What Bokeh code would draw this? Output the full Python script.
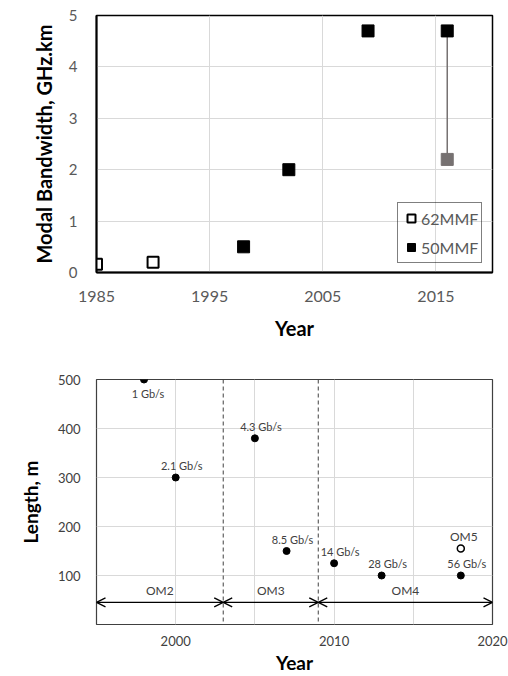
from bokeh.plotting import figure
from bokeh.models import (ColumnDataSource, Legend, LegendItem, FixedTicker, Arrow,
                          OpenHead, Span, Label, Range1d)
from bokeh.layouts import column
from bokeh.embed import file_html
from bokeh.resources import INLINE
from bokeh.core.properties import value

# ---------------- data: panel a) ----------------
years_62 = [1985, 1990]
bw_62 = [0.16, 0.2]
years_50 = [1998, 2002, 2009, 2016]
bw_50 = [0.5, 2.0, 4.7, 4.7]
years_50_low = [2016]
bw_50_low = [2.2]
xticks_a = [1985, 1995, 2005, 2015]
yticks_a = [0, 1, 2, 3, 4, 5]
legend_labels_a = ["62MMF", "50MMF"]

# ---------------- data: panel b) ----------------
rate_years = [1998, 2000, 2005, 2007, 2010, 2013, 2018]
rate_len = [500, 300, 380, 150, 125, 100, 100]
rate_labels = ["1 Gb/s", "2.1 Gb/s", "4.3 Gb/s", "8.5 Gb/s", "14 Gb/s", "28 Gb/s", "56 Gb/s"]
om5_year = [2018]
om5_len = [155]
om5_label = ["OM5"]
om_names = ["OM2", "OM3", "OM4"]
om_bounds = [1995, 2003, 2009, 2020]
om_arrow_len = 45
xticks_b = [2000, 2010, 2020]
xgrid_b = [1995, 2000, 2005, 2010, 2015, 2020]
yticks_b = [100, 200, 300, 400, 500]

FONT = "Lato"
MARGIN = 0
W = 508
HA, HB = 355, 321
A_BORDER = dict(left=96, right=16, top=15, bottom=83)
B_BORDER = dict(left=84, right=8, top=24, bottom=52)


def frame_geom(off_y, h, b, xr, yr):
    return dict(left=MARGIN + b["left"], right=MARGIN + W - b["right"],
                top=off_y + b["top"], bottom=off_y + h - b["bottom"],
                x0=xr[0], x1=xr[1], y0=yr[0], y1=yr[1])


def to_data(g, px, py):
    x = g["x0"] + (px - g["left"]) / (g["right"] - g["left"]) * (g["x1"] - g["x0"])
    y = g["y0"] + (g["bottom"] - py) / (g["bottom"] - g["top"]) * (g["y1"] - g["y0"])
    return x, y


# ================= panel a =================
xr_a, yr_a = (1985, 2020), (0, 5)
pa = figure(width=W, height=HA, x_range=Range1d(*xr_a), y_range=Range1d(*yr_a),
            output_backend="svg", toolbar_location=None,
            min_border_left=A_BORDER["left"], min_border_right=A_BORDER["right"],
            min_border_top=A_BORDER["top"], min_border_bottom=A_BORDER["bottom"])
ga = frame_geom(MARGIN, HA, A_BORDER, xr_a, yr_a)

pa.xaxis.ticker = FixedTicker(ticks=xticks_a)
pa.yaxis.ticker = FixedTicker(ticks=yticks_a)
pa.axis.major_tick_out = 0
pa.axis.major_tick_in = 0
pa.axis.minor_tick_out = 0
pa.axis.axis_line_width = 2
pa.axis.axis_line_color = "black"
pa.axis.major_label_text_font = FONT
pa.axis.major_label_text_color = "#595959"
pa.xaxis.major_label_text_font_size = "16px"
pa.yaxis.major_label_text_font_size = "15px"
pa.xaxis.major_label_standoff = 18
pa.yaxis.major_label_standoff = 19
pa.xaxis.axis_label = "Year"
pa.yaxis.axis_label = "Modal Bandwidth, GHz.km"
pa.axis.axis_label_text_font = FONT
pa.axis.axis_label_text_font_style = "bold"
pa.axis.axis_label_text_font_size = "20px"
pa.axis.axis_label_text_color = "black"
pa.xaxis.axis_label_standoff = 11
pa.yaxis.axis_label_standoff = 10
pa.grid.grid_line_color = "#d9d9d9"
pa.grid.grid_line_width = 1
pa.outline_line_color = "black"
pa.outline_line_width = 1.5

top_of_low = [bw_50[years_50.index(y)] for y in years_50_low]
pa.segment(x0=years_50_low, y0=bw_50_low, x1=years_50_low, y1=top_of_low,
           line_color="#767171", line_width=1.5)
r62 = pa.scatter(years_62, bw_62, marker="square", size=11, fill_color="white",
                 line_color="black", line_width=2)
r50 = pa.scatter(years_50, bw_50, marker="square", size=12, fill_color="black",
                 line_color="black")
pa.scatter(years_50_low, bw_50_low, marker="square", size=12, fill_color="#767171",
           line_color="#767171")

legend = Legend(items=[LegendItem(label=legend_labels_a[0], renderers=[r62]),
                       LegendItem(label=legend_labels_a[1], renderers=[r50])],
                location=(301, 9), orientation="vertical",
                border_line_color="black", border_line_width=1.5,
                background_fill_alpha=0, label_text_font=FONT,
                label_text_font_size="16px", label_text_color="#595959",
                glyph_width=20, glyph_height=24, label_height=24,
                label_standoff=0, spacing=5, padding=3, margin=0)
pa.add_layout(legend)

ax, ay = to_data(ga, 35, 340)
pa.add_layout(Label(x=ax, y=ay, text="a)", text_font=FONT, text_font_size="15px",
                    text_color="#262626", text_align="center", text_baseline="middle"))

# ================= panel b =================
xr_b, yr_b = (1995, 2020), (0, 500)
pb = figure(width=W, height=HB, x_range=Range1d(*xr_b), y_range=Range1d(*yr_b),
            output_backend="svg", toolbar_location=None,
            min_border_left=B_BORDER["left"], min_border_right=B_BORDER["right"],
            min_border_top=B_BORDER["top"], min_border_bottom=B_BORDER["bottom"])

pb.xaxis.ticker = FixedTicker(ticks=xticks_b)
pb.yaxis.ticker = FixedTicker(ticks=yticks_b)
pb.xgrid.ticker = FixedTicker(ticks=xgrid_b)
pb.ygrid.ticker = FixedTicker(ticks=yticks_b)
pb.axis.major_tick_out = 0
pb.axis.major_tick_in = 0
pb.axis.axis_line_color = None
pb.axis.major_label_text_font = FONT
pb.axis.major_label_text_color = "#404040"
pb.axis.major_label_text_font_size = "13px"
pb.xaxis.major_label_standoff = 11
pb.yaxis.major_label_standoff = 16
pb.xaxis.axis_label = "Year"
pb.yaxis.axis_label = "Length, m"
pb.axis.axis_label_text_font = FONT
pb.axis.axis_label_text_font_style = "bold"
pb.axis.axis_label_text_font_size = "19px"
pb.axis.axis_label_text_color = "black"
pb.xaxis.axis_label_standoff = 2
pb.yaxis.axis_label_standoff = 13
pb.grid.grid_line_color = "#d9d9d9"
pb.grid.grid_line_width = 1
pb.outline_line_color = "#404040"
pb.outline_line_width = 1.2

for b in om_bounds[1:-1]:
    pb.add_layout(Span(location=b, dimension="height", line_color="#404040",
                       line_dash="4 3", line_width=1))

arrow_src = ColumnDataSource(dict(x0=om_bounds[:-1], x1=om_bounds[1:],
                                  y=[om_arrow_len] * len(om_names)))
pb.add_layout(Arrow(x_start="x0", y_start="y", x_end="x1", y_end="y", source=arrow_src,
                    start=OpenHead(size=9, line_width=1.3, line_color="black"),
                    end=OpenHead(size=9, line_width=1.3, line_color="black"),
                    line_width=1.3, line_color="black"))
mids = [(a + b) / 2 for a, b in zip(om_bounds[:-1], om_bounds[1:])]
pb.text(x=mids, y=[om_arrow_len] * len(om_names), text=om_names, y_offset=-12,
        text_font=value(FONT), text_font_size="12px", text_color="#404040",
        text_align="center", text_baseline="middle")

pb.scatter(rate_years, rate_len, marker="circle", size=7, color="black")
pb.scatter(om5_year, om5_len, marker="circle", size=7, fill_color="white",
           line_color="black", line_width=1.5)

pb.text(x=rate_years[1:], y=rate_len[1:], text=rate_labels[1:], x_offset=6, y_offset=-12,
        text_font=value(FONT), text_font_size="11px", text_color="#404040",
        text_align="center", text_baseline="middle")
pb.text(x=rate_years[:1], y=rate_len[:1], text=rate_labels[:1], x_offset=4, y_offset=14,
        text_font=value(FONT), text_font_size="11px", text_color="#404040",
        text_align="center", text_baseline="middle")
pb.text(x=om5_year, y=om5_len, text=om5_label, x_offset=3, y_offset=-12,
        text_font=value(FONT), text_font_size="12px", text_color="#404040",
        text_align="center", text_baseline="middle")

layout = column(pa, pb, spacing=0)
open("out.html", "w").write(file_html(layout, INLINE))
